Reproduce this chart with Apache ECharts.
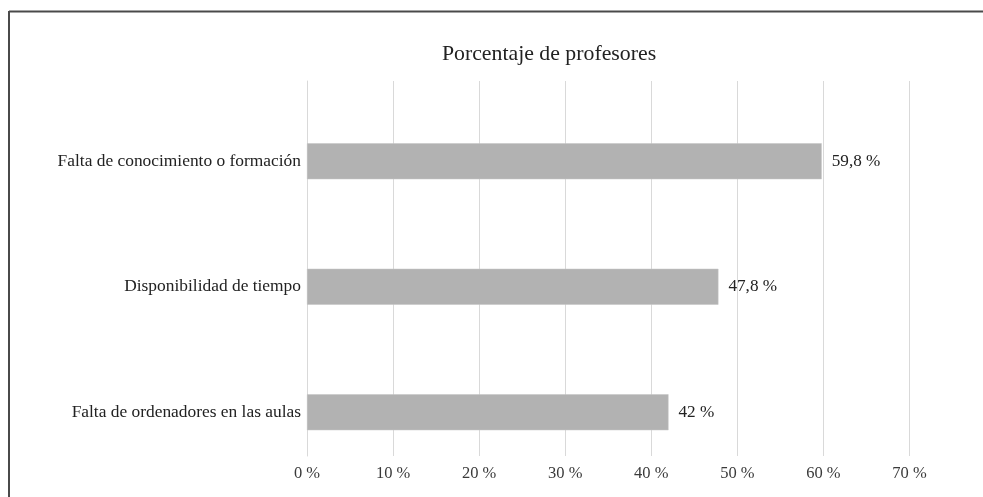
<!DOCTYPE html>
<html>
<head>
<meta charset="utf-8">
<script src="https://cdn.jsdelivr.net/npm/echarts@6/dist/echarts.min.js"></script>
<style>
html,body{margin:0;padding:0;background:#fff;}
#c{width:983px;height:497px;}
</style>
</head>
<body>
<div id="c"></div>
<script>
var titleText = 'Porcentaje de profesores';
var categories = ['Falta de conocimiento o formación', 'Disponibilidad de tiempo', 'Falta de ordenadores en las aulas'];
var values = [59.8, 47.8, 42];
var axisMin = 0, axisMax = 70, axisStep = 10;

var FONT = '"Liberation Serif", "Times New Roman", serif';
var chart = echarts.init(document.getElementById('c'));
chart.setOption({
  animation: false,
  backgroundColor: '#fff',
  textStyle: { fontFamily: FONT },
  title: {
    text: titleText, left: 544, top: 38, textAlign: 'center',
    textStyle: { fontFamily: FONT, fontSize: 21.8, fontWeight: 'normal', color: '#222' }
  },
  graphic: [
    { type: 'line', shape: { x1: 9, y1: 11.5, x2: 983, y2: 11.5 }, style: { stroke: '#4a4a4a', lineWidth: 2 } },
    { type: 'line', shape: { x1: 9, y1: 11, x2: 9, y2: 497 }, style: { stroke: '#4a4a4a', lineWidth: 2 } }
  ],
  grid: [
    { left: 307, right: 73.5, top: 81, bottom: 41, containLabel: false },
    { left: 307, right: 73.5, top: 98.5, bottom: 22, containLabel: false }
  ],
  xAxis: [
    {
      gridIndex: 0, type: 'value', min: axisMin, max: axisMax, interval: axisStep,
      axisLine: { show: false }, axisTick: { show: false },
      splitLine: { show: true, lineStyle: { color: '#d9d9d9', width: 1 } },
      axisLabel: { formatter: '{value} %', fontFamily: FONT, fontSize: 16.5, color: '#3a3a3a', margin: 9 }
    },
    {
      gridIndex: 1, type: 'value', min: axisMin, max: axisMax, interval: axisStep,
      show: false
    }
  ],
  yAxis: [
    {
      gridIndex: 0, type: 'category', data: categories, inverse: true,
      axisLine: { show: true, lineStyle: { color: '#d9d9d9', width: 1 } },
      axisTick: { show: false }, axisLabel: { show: false }, splitLine: { show: false }
    },
    {
      gridIndex: 1, type: 'category', data: categories, inverse: true,
      axisLine: { show: false }, axisTick: { show: false }, splitLine: { show: false },
      axisLabel: { fontFamily: FONT, fontSize: 17.4, color: '#222', margin: 6 }
    }
  ],
  series: [{
    type: 'bar', xAxisIndex: 1, yAxisIndex: 1, data: values, barWidth: 36,
    itemStyle: { color: '#b2b2b2', borderColor: '#c4c4c4', borderWidth: 0.5 },
    label: {
      show: true, position: 'right', distance: 10,
      fontFamily: FONT, fontSize: 17.2, color: '#222',
      formatter: function (p) { return String(p.value).replace('.', ',') + ' %'; }
    }
  }]
});
</script>
</body>
</html>
